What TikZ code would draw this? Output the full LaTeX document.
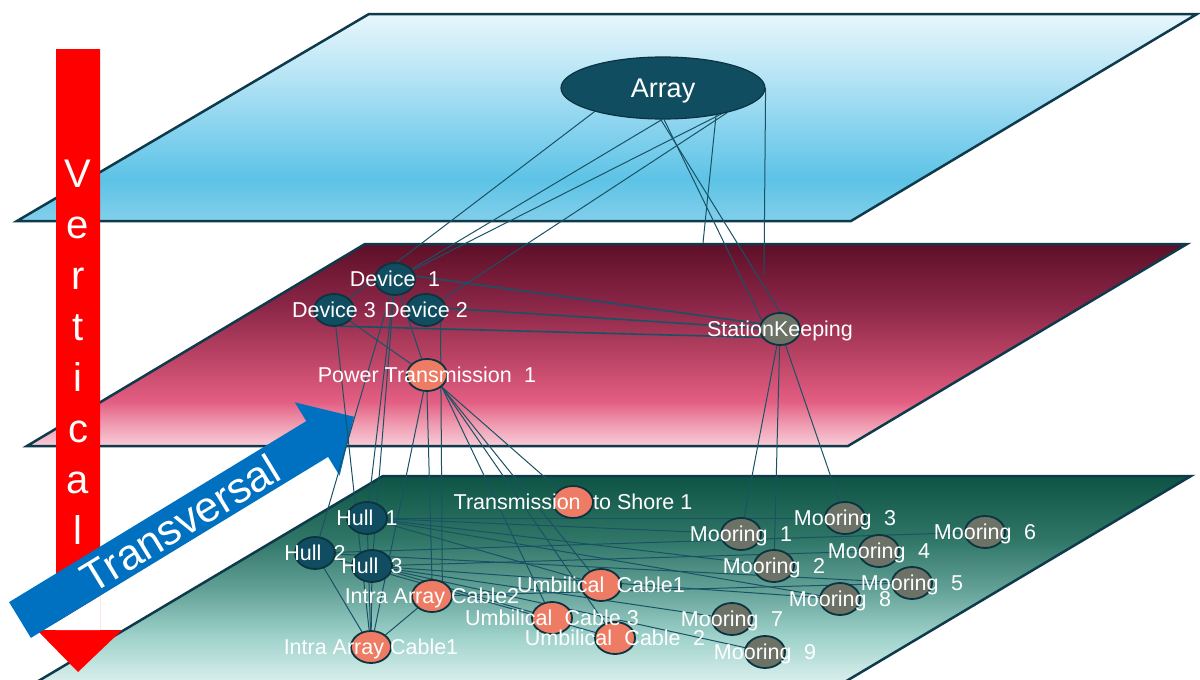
\documentclass[tikz,border=0pt]{standalone}
\usepackage{fontspec}
\setmainfont{Liberation Sans}
\usetikzlibrary{shapes.geometric}

\pgfdeclarelayer{back}
\pgfdeclarelayer{links}
\pgfsetlayers{back,links,main}

% plane colours
\definecolor{bl1}{HTML}{E8F6FC}
\definecolor{bl2}{HTML}{B6E4F5}
\definecolor{bl3}{HTML}{86D2EE}
\definecolor{bl4}{HTML}{5DC3E6}
\definecolor{bl5}{HTML}{82CFEB}
\definecolor{mg1}{HTML}{5E0F27}
\definecolor{mg2}{HTML}{8A2647}
\definecolor{mg3}{HTML}{C24869}
\definecolor{mg4}{HTML}{E35E82}
\definecolor{mg5}{HTML}{EE95AC}
\definecolor{mg6}{HTML}{F8CDD8}
\definecolor{gr1}{HTML}{0E5444}
\definecolor{gr2}{HTML}{2F7667}
\definecolor{gr3}{HTML}{63A197}
\definecolor{gr4}{HTML}{9DD1CA}
\definecolor{gr5}{HTML}{E0F2F0}
\definecolor{planeedge}{HTML}{0F3A4C}
% graph colours
\definecolor{linkc}{HTML}{1A5265}
\definecolor{nodeedge}{HTML}{0B3340}
\definecolor{tealn}{HTML}{114D60}
\definecolor{salmon}{HTML}{EE7C64}
\definecolor{greyn}{HTML}{6C7266}
\definecolor{arrowred}{HTML}{FF0000}
\definecolor{arrowblue}{HTML}{0070C0}

\pgfdeclareverticalshading{blueplane}{100bp}{color(0bp)=(bl5); color(25bp)=(bl5); color(35bp)=(bl4); color(47bp)=(bl3); color(60bp)=(bl2); color(75bp)=(bl1); color(100bp)=(bl1)}
\pgfdeclareverticalshading{magplane}{100bp}{color(0bp)=(mg6); color(25bp)=(mg6); color(31bp)=(mg5); color(36bp)=(mg4); color(45bp)=(mg3); color(60bp)=(mg2); color(75bp)=(mg1); color(100bp)=(mg1)}
\pgfdeclareverticalshading{greenplane}{100bp}{color(0bp)=(gr5); color(25bp)=(gr5); color(37bp)=(gr4); color(48bp)=(gr3); color(60bp)=(gr2); color(75bp)=(gr1); color(100bp)=(gr1)}

\newcommand\wsp{\hspace{0.3em}}

\begin{document}
\begin{tikzpicture}[x=1pt,y=-1pt,
  plane/.style={draw=planeedge, line width=2.5pt, line join=miter},
  link/.style={draw=linkc, line width=1pt},
  heavylink/.style={draw=linkc, line width=1.6pt},
  nd/.style={ellipse, minimum width=40pt, minimum height=32pt, inner sep=0pt,
             draw=nodeedge, line width=1.8pt},
  dnode/.style={nd, fill=tealn},
  cnode/.style={nd, fill=salmon},
  gnode/.style={nd, fill=greyn},
  lbl/.style={text=white, font=\fontsize{21.5}{24}\selectfont, anchor=base,
              yshift=-7.7pt, inner sep=0pt},
  vlet/.style={text=white, font=\fontsize{40}{44}\selectfont, anchor=base, inner sep=0pt}
]
\clip (0,0) rectangle (1200,680);

\begin{pgfonlayer}{back}
  % three layer planes
  \shadedraw[plane, shading=blueplane] (369,14) -- (1197,14) -- (851,221) -- (17,221) -- cycle;
  \shadedraw[plane, shading=magplane] (365,244) -- (1187,244) -- (848,446) -- (27,446) -- cycle;
  \shadedraw[plane, shading=greenplane] (383,476) -- (1191,476) -- (838,686) -- (30,686) -- cycle;

  % vertical arrow
  \fill[arrowred] (56,49) -- (100,49) -- (100,630) -- (122,630) -- (78,672)
                  -- (37,630) -- (56,630) -- cycle;
  \fill[white] (56,622.6) -- (100,595.8) -- (100,630) -- (56,630) -- cycle;
  \foreach \ch [count=\i] in {V,e,r,t,i,c,a,l}
    \node[vlet] (vert\i) at (78,{187+51*(\i-1)}) {\ch};

  % transversal arrow
  \fill[arrowblue] (9.1,602.1) -- (306.3,421.1) -- (294.8,402.3) -- (353.9,416.7)
                   -- (339.6,475.7) -- (328.1,456.9) -- (30.9,637.9) -- cycle;
  \node[text=white, font=\fontsize{43}{46}\selectfont, rotate=31.3, inner sep=0pt]
       (trans) at (180,523) {Transversal};
\end{pgfonlayer}

% array level
\node[ellipse, minimum width=204pt, minimum height=62pt, inner sep=0pt,
      fill=tealn, draw=nodeedge, line width=1.2pt] (array) at (663,88) {};

% device level
\node[dnode] (dev1) at (395,279) {};
\node[dnode] (dev3) at (334,310) {};
\node[dnode] (dev2) at (426,310) {};
\node[cnode] (pt1) at (427,375) {};
\node[gnode] (sk) at (780,329) {};

% component level
\node[dnode] (hull1) at (367,518) {};
\node[dnode] (hull2) at (315,553) {};
\node[dnode] (hull3) at (372,566) {};
\node[cnode] (iac2) at (432,596) {};
\node[cnode] (iac1) at (371,647) {};
\node[cnode] (tts) at (573,502) {};
\node[cnode] (uc1) at (601,585) {};
\node[cnode] (uc3) at (552,618) {};
\node[cnode] (uc2) at (615,638) {};
\node[gnode] (m1) at (741,534) {};
\node[gnode] (m3) at (845,518) {};
\node[gnode] (m6) at (985,532) {};
\node[gnode] (m4) at (879,551) {};
\node[gnode] (m2) at (774,566) {};
\node[gnode] (m5) at (912,583) {};
\node[gnode] (m8) at (840,599) {};
\node[gnode] (m7) at (732,619) {};
\node[gnode] (m9) at (765,652) {};

\coordinate (endA) at (703,243);
\coordinate (endB) at (764,275);

\begin{pgfonlayer}{links}
  % array links
  \draw[link] (array.199) -- (dev3);
  \draw[link] (array.268) -- (dev1);
  \draw[link] (array.336) -- (dev1);
  \draw[link] (array.339) -- (dev2);
  \draw[link] (array.266) -- (sk.north);
  \draw[link] (array.272) -- (sk.155);
  \draw[link] (array.333) -- (endA);
  \draw[link] (array.east) -- (endB);
  % device links
  \draw[heavylink] (dev1.8) -- (sk.165);
  \draw[heavylink] (dev2.5) -- (sk.178);
  \draw[heavylink] (dev3.290) -- (sk.205);
  \draw[link] (dev1) -- (pt1);
  \draw[link] (dev3) -- (pt1);
  \draw[link] (dev2.320) -- (iac2.55);
  \draw[link] (dev1) -- (hull2);
  \draw[link] (dev1) -- (hull1);
  \draw[link] (dev1) -- (hull3);
  \draw[link] (dev3) -- (iac1);
  % power transmission links
  \draw[link] (pt1) -- (iac1);
  \draw[link] (pt1.south) -- (iac2.north);
  \draw[link] (pt1.south east) -- (tts);
  \draw[link] (pt1.south east) -- (uc1);
  \draw[link] (pt1.south east) -- (uc3);
  \draw[link] (pt1.south east) -- (uc2);
  % station keeping links
  \draw[link] (sk) -- (m1);
  \draw[link] (sk) -- (m2);
  \draw[link] (sk) -- (m3);
  % component links
  \foreach \a/\b in {hull1/m1, hull1/m2, hull1/m3, hull1/m8, hull1/uc1, hull1/iac1,
                     hull2/m5, hull2/m6, hull2/uc2, hull2/iac1,
                     hull3/m4, hull3/m7, hull3/m8, hull3/m9, hull3/uc3, hull3/iac1,
                     iac2/iac1, iac2/m5}
    \draw[link] (\a) -- (\b);
\end{pgfonlayer}

% labels
\node[text=white, font=\fontsize{27}{30}\selectfont, anchor=base, yshift=-9.7pt, inner sep=0pt]
     (array-l) at (array) {Array};
\node[lbl] (dev1-l) at (dev1) {Device\wsp{} 1};
\node[lbl] (dev3-l) at (dev3) {Device 3};
\node[lbl] (dev2-l) at (dev2) {Device 2};
\node[lbl] (pt1-l) at (pt1) {Power Transmission\wsp{} 1};
\node[lbl] (sk-l) at (sk) {StationKeeping};
\node[lbl] (hull1-l) at (hull1) {Hull\wsp{} 1};
\node[lbl] (hull2-l) at (hull2) {Hull\wsp{} 2};
\node[lbl] (hull3-l) at (hull3) {Hull\wsp{} 3};
\node[lbl] (iac2-l) at (iac2) {Intra Array Cable2};
\node[lbl] (iac1-l) at (iac1) {Intra Array Cable1};
\node[lbl] (tts-l) at (tts) {Transmission\wsp{} to Shore 1};
\node[lbl] (uc1-l) at (uc1) {Umbilical\wsp{} Cable1};
\node[lbl] (uc3-l) at (uc3) {Umbilical\wsp{} Cable 3};
\node[lbl] (uc2-l) at (uc2) {Umbilical\wsp{} Cable\wsp{} 2};
\node[lbl] (m1-l) at (m1) {Mooring\wsp{} 1};
\node[lbl] (m2-l) at (m2) {Mooring\wsp{} 2};
\node[lbl] (m3-l) at (m3) {Mooring\wsp{} 3};
\node[lbl] (m4-l) at (m4) {Mooring\wsp{} 4};
\node[lbl] (m5-l) at (m5) {Mooring\wsp{} 5};
\node[lbl] (m6-l) at (m6) {Mooring\wsp{} 6};
\node[lbl] (m7-l) at (m7) {Mooring\wsp{} 7};
\node[lbl] (m8-l) at (m8) {Mooring\wsp{} 8};
\node[lbl] (m9-l) at (m9) {Mooring\wsp{} 9};
\end{tikzpicture}
\end{document}
